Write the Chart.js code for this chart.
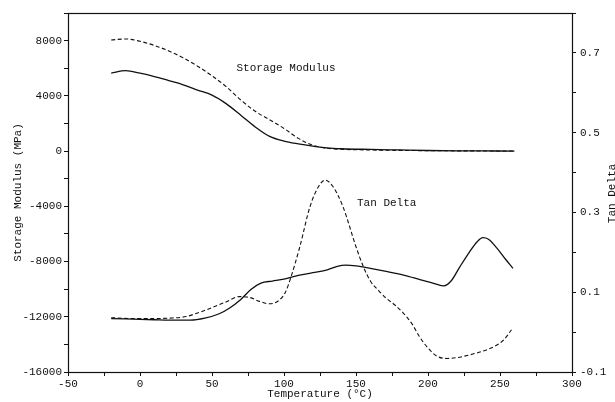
<!DOCTYPE html>
<html>
<head>
<meta charset="utf-8">
<script src="https://cdn.jsdelivr.net/npm/chart.js@4/dist/chart.umd.min.js"></script>
<style>
  html, body { margin: 0; padding: 0; background: #fff; }
  canvas { display: block; }
</style>
</head>
<body>
<canvas id="dma" width="615" height="402"></canvas>
<script>
// Storage modulus (MPa) vs temperature (°C), two samples
const modulusSolidT = [-20, -10, 0, 10, 20, 30, 40, 50, 60, 70, 80, 90, 100, 110, 120, 130, 140, 160, 180, 200, 220, 240, 260];
const modulusSolid  = [5650, 5820, 5640, 5400, 5100, 4800, 4420, 4050, 3420, 2600, 1750, 1060, 720, 520, 360, 230, 170, 120, 80, 40, 20, 10, 0];

const modulusDashT = [-20, -10, 0, 10, 20, 30, 40, 50, 60, 70, 80, 90, 100, 110, 120, 130, 140, 160, 200, 260];
const modulusDash  = [8050, 8120, 7950, 7650, 7250, 6750, 6150, 5450, 4650, 3700, 2880, 2270, 1640, 920, 420, 200, 130, 78, 30, 0];

// Tan delta vs temperature (°C), two samples
const tanSolidT = [-20, -10, 0, 10, 20, 35, 45, 55, 62, 70, 77, 84, 92, 100, 110, 120, 130, 137, 143, 150, 160, 170, 183, 195, 205, 211, 216, 222, 229, 234, 238, 242, 248, 254, 259];
const tanSolid  = [0.034, 0.033, 0.032, 0.031, 0.030, 0.030, 0.035, 0.046, 0.060, 0.082, 0.107, 0.123, 0.128, 0.133, 0.142, 0.149, 0.156, 0.165, 0.168, 0.166, 0.160, 0.153, 0.143, 0.131, 0.121, 0.116, 0.128, 0.163, 0.202, 0.226, 0.237, 0.233, 0.210, 0.182, 0.160];

const tanDashT = [-20, -5, 10, 20, 32, 40, 49, 60, 69, 76, 83, 90, 96, 101, 105, 111, 118, 124, 128.5, 134, 141, 150, 155, 160, 166, 171, 177, 183, 189, 194, 200, 206, 213, 220, 229, 236, 243, 249, 253, 258];
const tanDash  = [0.036, 0.034, 0.034, 0.035, 0.039, 0.048, 0.060, 0.076, 0.089, 0.087, 0.077, 0.071, 0.078, 0.100, 0.140, 0.214, 0.314, 0.365, 0.381, 0.365, 0.314, 0.214, 0.165, 0.128, 0.103, 0.085, 0.068, 0.047, 0.020, -0.011, -0.040, -0.060, -0.066, -0.064, -0.057, -0.050, -0.041, -0.030, -0.018, 0.006];

// Axis tick labels
const tempLabels = [-50, 0, 50, 100, 150, 200, 250, 300];
const modulusLabels = [-16000, -12000, -8000, -4000, 0, 4000, 8000];
const tanLabels = [-0.1, 0.1, 0.3, 0.5, 0.7];

const pairs = (xs, ys) => xs.map((x, i) => ({ x: x, y: ys[i] }));

const MONO = '"Liberation Mono", "DejaVu Sans Mono", monospace';
const INK = '#111';

function lineSet(data, axis, dashed) {
  return {
    data: data,
    yAxisID: axis,
    borderColor: INK,
    borderWidth: dashed ? 1.1 : 1.3,
    borderDash: dashed ? [4, 2.5] : [],
    pointRadius: 0,
    fill: false,
    cubicInterpolationMode: 'monotone'
  };
}

// Frame around the plot area, in-plot captions and the right axis title
const framePlugin = {
  id: 'frame',
  afterDraw(chart) {
    const { ctx, chartArea: a, scales } = chart;
    ctx.save();
    ctx.strokeStyle = INK;
    ctx.lineWidth = 1.2;
    ctx.strokeRect(a.left + 0.5, a.top + 0.5, a.right - a.left, a.bottom - a.top);
    ctx.fillStyle = INK;
    ctx.font = '11px ' + MONO;
    ctx.textBaseline = 'middle';
    ctx.textAlign = 'left';
    ctx.fillText('Storage Modulus', scales.x.getPixelForValue(67), scales.y.getPixelForValue(6000));
    ctx.fillText('Tan Delta', scales.x.getPixelForValue(150.7), scales.y2.getPixelForValue(0.324));
    // right axis title, reading upward like the left one
    ctx.translate(scales.y2.right - 3, (a.top + a.bottom) / 2 + 1);
    ctx.rotate(-Math.PI / 2);
    ctx.textAlign = 'center';
    ctx.fillText('Tan Delta', 0, 0);
    ctx.restore();
  }
};

function fixSize(prop, size) {
  return function (scale) { scale[prop] = size; };
}

new Chart(document.getElementById('dma'), {
  type: 'line',
  data: {
    datasets: [
      lineSet(pairs(modulusSolidT, modulusSolid), 'y', false),
      lineSet(pairs(modulusDashT, modulusDash), 'y', true),
      lineSet(pairs(tanSolidT, tanSolid), 'y2', false),
      lineSet(pairs(tanDashT, tanDash), 'y2', true)
    ]
  },
  options: {
    responsive: false,
    animation: false,
    layout: { padding: { top: 13, left: 0, right: 0, bottom: 0 } },
    plugins: { legend: { display: false }, tooltip: { enabled: false } },
    scales: {
      x: {
        type: 'linear',
        min: -50, max: 300,
        afterFit: fixSize('height', 30),
        border: { display: false },
        grid: { drawOnChartArea: false, tickLength: 4, color: INK, tickColor: INK },
        ticks: {
          stepSize: 25, padding: 1, color: INK, maxRotation: 0, autoSkip: false,
          font: { family: MONO, size: 11 },
          callback: v => tempLabels.includes(v) ? String(v) : ''
        },
        title: {
          display: true, text: 'Temperature (°C)', color: INK,
          font: { family: MONO, size: 11 }, padding: { top: 0, bottom: 1 }
        }
      },
      y: {
        type: 'linear', position: 'left',
        min: -16000, max: 10000,
        afterFit: fixSize('width', 68),
        border: { display: false },
        grid: { drawOnChartArea: false, tickLength: 4, color: INK, tickColor: INK },
        ticks: {
          stepSize: 2000, padding: 2, color: INK, autoSkip: false,
          font: { family: MONO, size: 11 },
          callback: v => modulusLabels.includes(v) ? String(v) : ''
        },
        title: {
          display: true, text: 'Storage Modulus (MPa)', color: INK,
          font: { family: MONO, size: 11 }, padding: { top: 11, bottom: 0 }
        }
      },
      y2: {
        type: 'linear', position: 'right',
        min: -0.1, max: 0.8,
        afterFit: fixSize('width', 43),
        border: { display: false },
        grid: { drawOnChartArea: false, tickLength: 4, color: INK, tickColor: INK },
        ticks: {
          stepSize: 0.1, padding: 4, color: INK, autoSkip: false,
          font: { family: MONO, size: 11 },
          callback: v => tanLabels.some(t => Math.abs(t - v) < 1e-6) ? v.toFixed(1) : ''
        },
        title: { display: false }
      }
    }
  },
  plugins: [framePlugin]
});
</script>
</body>
</html>
